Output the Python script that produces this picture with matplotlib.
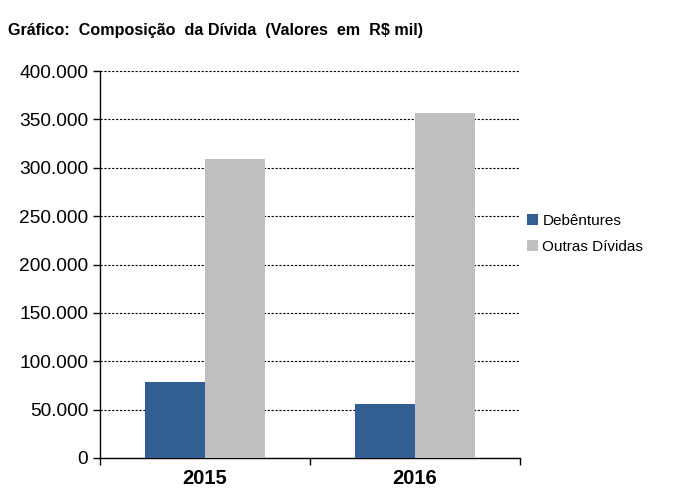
import numpy as np
import matplotlib.pyplot as plt
from matplotlib.ticker import FuncFormatter

plt.rcParams['font.family'] = ['Liberation Sans', 'DejaVu Sans']

anos = ['2015', '2016']
debentures = [78500, 55800]
outras = [309000, 356500]
y_ticks = [0, 50000, 100000, 150000, 200000, 250000, 300000, 350000, 400000]

fig = plt.figure(figsize=(6.79, 5.04), dpi=100)
ax = fig.add_axes([100/679, 46/504, 420/679, 387/504])

x = np.arange(len(anos))
w = 60/210
b1 = ax.bar(x - w/2, debentures, w, color='#335E91', label='Debêntures', zorder=3)
b2 = ax.bar(x + w/2, outras, w, color='#BFBFBF', label='Outras Dívidas', zorder=3)

ax.set_xlim(-0.5, len(anos) - 0.5)
ax.set_ylim(0, 400000)
ax.set_yticks(y_ticks)
ax.yaxis.set_major_formatter(FuncFormatter(lambda v, p: '0' if v == 0 else f'{int(v):,}'.replace(',', '.')))
ax.tick_params(axis='y', labelsize=13.8, length=5, direction='out', width=1)
ax.set_xticks(x)
ax.set_xticklabels(anos, fontsize=14.5, fontweight='bold')
ax.set_xticks([-0.5, 0.5, 1.5], minor=True)
ax.tick_params(axis='x', which='major', length=0, pad=8)
ax.tick_params(axis='x', which='minor', length=5, direction='out', width=1)
ax.grid(axis='y', color='black', linestyle=(0, (2, 1.5)), linewidth=0.8, zorder=0)
for s in ['top', 'right']:
    ax.spines[s].set_visible(False)
for s in ['left', 'bottom']:
    ax.spines[s].set_linewidth(1)

fig.text(8/679, 1 - 30/504, 'Gráfico:  Composição  da Dívida  (Valores  em  R$ mil)',
         fontsize=11.6, fontweight='bold', va='center', ha='left')

fig.legend(handles=[b1, b2], loc='upper left', bbox_to_anchor=(521/679, 1 - 208/504),
           frameon=False, fontsize=11, handlelength=0.7, handleheight=0.7,
           handletextpad=0.3, labelspacing=0.75, borderaxespad=0)

fig.savefig('out.png', dpi=100)
